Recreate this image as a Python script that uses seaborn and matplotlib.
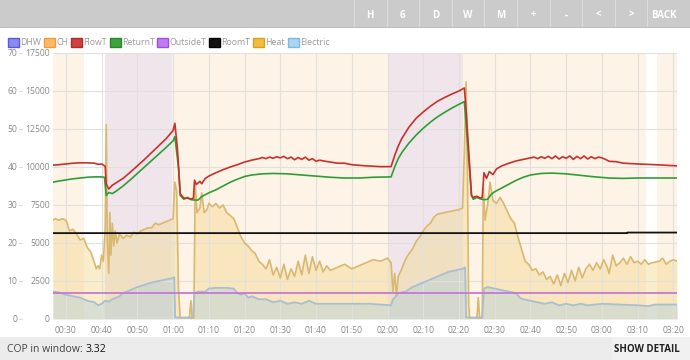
import matplotlib
matplotlib.use("Agg")
import matplotlib.pyplot as plt
from matplotlib.patches import Rectangle
import pandas as pd
import seaborn as sns

# ---- data (minutes after midnight) ----
flow_t = [26.4, 28, 30, 32, 34, 36, 38, 39, 40, 41, 41.3, 42, 43, 44, 46, 48, 50, 52, 54, 56, 58, 60, 60.5,
          61.2, 62, 63, 64, 65, 65.7, 66, 66.5, 67.5, 68, 69, 70, 72, 74, 76, 78, 80, 82, 84, 85, 86, 87, 88,
          89, 90, 91, 92, 93, 94, 95, 96, 97, 98, 99, 100, 101, 102, 104, 106, 108, 110, 114, 118, 121,
          122, 123, 124, 126, 128, 130, 132, 134, 136, 138, 140, 141.5, 142, 143, 143.5, 144, 145, 146,
          146.5, 147, 147.7, 148.5, 149.5, 150.5, 152, 154, 156, 158, 160, 161, 162, 163, 164, 165, 166,
          167, 168, 169, 170, 171, 172, 173, 174, 175, 176, 177, 178, 179, 180, 181, 182, 184, 186, 190,
          195, 201]
flow_v = [40.5, 40.6, 40.8, 41.0, 41.1, 41.1, 41.0, 40.7, 40.8, 40.2, 35.5, 34.2, 35.2, 35.8, 37.0, 38.6,
          40.3, 42.0, 43.8, 45.6, 47.4, 49.6, 51.5,
          45.0, 33.0, 31.8, 31.8, 31.6, 31.8, 36.5, 35.4, 36.2, 35.6, 37.0, 37.6, 38.5, 39.3, 40.0, 40.6,
          41.3, 41.8, 42.2, 42.5, 42.2, 42.6, 42.3,
          42.7, 42.4, 42.8, 42.2, 42.6, 41.9, 42.5, 42.0, 42.6, 41.8, 42.2, 41.5, 41.8, 41.6, 41.3, 41.0,
          41.0, 40.6, 40.3, 40.1, 40.1,
          43.0, 45.5, 47.5, 50.5, 52.8, 54.5, 56.0, 57.3, 58.3, 59.2, 60.0, 60.8, 55.0, 40.0, 32.5, 32.0,
          32.3, 31.8,
          32.0, 38.5, 37.0, 38.8, 38.0, 39.5, 40.3, 41.0, 41.6, 42.0, 42.4, 42.6, 42.2, 42.7, 42.3, 42.8,
          42.2,
          42.9, 42.1, 42.7, 42.3, 42.9, 42.0, 42.8, 42.2, 42.9, 42.1, 42.7, 42.2, 42.6, 42.4, 42.0, 41.5,
          41.4, 41.0, 40.8,
          40.6, 40.3]

ret_t = [26.4, 28, 30, 32, 34, 36, 38, 40, 40.8, 41.3, 42, 43, 44, 46, 48, 50, 52, 54, 56, 58, 60, 60.5,
         61.5, 62, 63, 64, 65, 66, 67, 68, 70, 72, 74, 76, 78, 80, 82, 85, 88, 92, 96, 100, 104, 108, 112,
         116, 121, 122, 123, 124, 126, 128, 130, 132, 134, 136, 138, 140, 141.5, 142.5, 143.5, 144, 145,
         146, 147, 148, 149, 150, 152, 154, 156, 158, 160, 163, 166, 170, 174, 178, 182, 186, 190, 195, 201]
ret_v = [36.0, 36.3, 36.6, 36.9, 37.1, 37.3, 37.4, 37.4, 37.3, 32.5, 33.3, 33.0, 33.6, 35.0, 36.6, 38.3,
         40.0, 41.7, 43.4, 45.1, 46.9, 48.0,
         40.0, 32.5, 31.5, 32.0, 31.4, 31.3, 31.3, 32.2, 33.2, 34.0, 35.0, 36.0, 36.8, 37.5, 37.9, 38.2,
         38.3, 38.2, 37.9, 37.6, 37.3, 37.1, 37.1,
         37.3, 37.4, 40.0, 42.2, 43.8, 46.3, 48.4, 50.2, 51.8, 53.2, 54.4, 55.5, 56.5, 57.2, 45.0, 32.5,
         31.5, 32.0,
         31.6, 31.4, 31.5, 32.8, 33.5, 34.5, 35.5, 36.5, 37.3, 37.9, 38.3, 38.4, 38.2, 37.8, 37.4, 37.1,
         37.0, 37.1, 37.1, 37.1]

heat_t = [26.4, 27, 28, 29, 30, 30.5, 31, 32, 33, 34, 35, 36, 37, 38, 38.5, 39, 39.5, 40, 40.5, 41, 41.3,
          41.6, 42, 42.3, 42.6, 43, 43.4, 43.8, 44.3, 45, 46, 47, 48, 49, 50, 51, 52, 53, 54, 55, 56, 57,
          58, 59, 60, 60.5, 61, 61.5, 62, 64.5, 65, 65.3, 65.8, 66.2, 66.7, 67.5, 68, 68.7, 69.5, 70, 71,
          72, 73, 74, 75, 76, 77, 78, 79, 80, 81, 82, 83, 84, 85, 86, 87, 88, 89, 90, 91, 92, 93, 94, 95,
          96, 97, 98, 99, 100, 101, 102, 103, 104, 106, 108, 110, 112, 114, 116, 118, 120, 121, 121.5,
          122, 122.5, 123, 124, 125, 126, 127, 128, 129, 130, 131, 132, 133, 134, 136, 138, 140, 141,
          141.5, 142, 142.4, 142.7, 143, 145, 145.4, 145.8, 146.5, 146.8, 147.3, 148, 148.7, 149.5, 150.5,
          151.5, 152.5, 153.5, 154.5, 155.5, 156.5, 157.5, 158.5, 159.5, 160.5, 161.5, 162.5, 163.5,
          164.5, 165.5, 166.5, 167.5, 168.5, 169.5, 170.5, 171.5, 172.5, 173.5, 174.5, 175.5, 176.5,
          177.5, 178.5, 179.5, 180.5, 181.5, 182, 183, 184, 185, 186, 187, 188, 189, 190, 191, 192, 193,
          194, 196, 197, 198, 199, 200, 201]
heat_v = [6500, 6600, 6500, 6600, 6500, 6200, 5800, 5900, 5600, 5200, 5300, 4700, 4400, 3700, 3300, 3500,
          3300, 4200, 3800, 6000, 12800,
          5000, 3000, 7000, 4200, 6300, 4800, 5800, 5000, 5600, 5300, 5500, 5400, 5700, 5600, 5800, 5900,
          6000, 6000, 6300, 6200, 6300,
          6400, 6500, 6600, 9000, 8400, 2000, 0, 0, 1200, 0, 0, 8800, 7000, 7300, 8300, 7000, 7200, 7600,
          7400,
          7600, 7300, 7500, 7000, 6800, 6600, 6000, 5400, 5000, 4800, 4500, 4300, 3800, 3600, 3300, 3900,
          2900, 3400, 2700, 3600, 2600, 3300, 2800, 3800,
          2900, 4200, 3000, 4100, 3200, 3800, 3100, 3500, 3200, 3400, 3600, 3300, 3500, 3700, 3900, 3800,
          4000, 3700, 1800,
          3000, 1500, 2800, 3300, 3900, 4300, 4600, 5100, 5400, 5800, 6100, 6300, 6700, 6900, 7000, 7100,
          7200, 7300,
          11000, 15600, 9000, 1000, 0, 0, 1400, 0, 0, 8600, 6500, 7500, 9000, 7800, 7600,
          8000, 7600, 7100, 6600, 6300, 5400, 4600, 3800, 3600, 3200, 3300, 2900, 3100,
          2600, 2800, 2300, 2900, 2200, 3000, 2400, 3200, 2500, 3400, 2700, 3300, 3600,
          3200, 3700, 3300, 3900, 3400, 3000, 4200, 3500, 3700, 4000, 3600, 4100, 3700, 3800, 3600, 3900,
          3600,
          3700, 3800, 4000, 3600, 3800, 3900, 3800]

elec_t = [26.4, 28, 30, 32, 34, 36, 38, 39, 40, 41, 42, 43, 45, 46, 48, 50, 52, 54, 56, 58, 60, 60.3, 60.6,
          65.5, 66, 67, 69, 70, 72, 75, 77, 78, 79, 80, 81, 82, 84, 86, 88, 90, 92, 94, 96, 98, 100, 104,
          110, 115, 121, 121.5, 122, 123, 125, 127, 129, 131, 133, 135, 137, 139, 141, 141.7, 142, 146.5,
          147, 148, 150, 152, 154, 156, 157, 158, 160, 162, 164, 166, 168, 170, 172, 174, 176, 180, 185,
          190, 193, 195, 201]
elec_v = [1800, 1750, 1600, 1500, 1400, 1200, 1100, 900, 1000, 1200, 1150, 1300, 1500, 1700, 1900, 2100,
          2250, 2400, 2500, 2600, 2700, 2750, 100,
          100, 1700, 1800, 1800, 2000, 2050, 2050, 2000, 1700, 1600, 1700, 1400, 1500, 1300, 1300, 1100,
          1200, 1000, 1100, 1000, 1200, 1000, 1000,
          1000, 1000, 900, 1300, 1400, 1700, 1800, 2100, 2300, 2500, 2700, 2900, 3100, 3200, 3300, 3400,
          100, 100,
          2000, 2100, 2000, 1900, 1800, 1700, 1400, 1300, 1200, 1100, 1000, 1100, 900, 1000, 900, 1000,
          900, 1000, 950,
          900, 850, 950, 950]

outside_t = [26.4, 201]
outside_v = [6.8, 6.8]
room_t = [26.4, 187, 187.1, 201]
room_v = [22.6, 22.6, 22.75, 22.75]

# heating mode bands
ch_start = [26.4, 59.7, 141.0, 195.5]
ch_end = [35.0, 120.4, 192.4, 201.0]
dhw_start = [41.0, 120.4]
dhw_end = [59.7, 141.0]

legend_names = ["DHW", "CH", "FlowT", "ReturnT", "OutsideT", "RoomT", "Heat", "Electric"]
legend_fill = ["#8a8af5", "#ffb866", "#d04040", "#3da33d", "#c07cf2", "#111111", "#f2bd3c", "#a9d6f2"]
legend_edge = ["#5a5ad8", "#f09a40", "#b02a2a", "#2a882a", "#a050d8", "#000000", "#d8a020", "#7fb8de"]
buttons = ["H", "6", "D", "W", "M", "+", "-", "<", ">", "BACK"]
cop_value = "3.32"

# ---- figure ----
sns.set_theme(style="white")
plt.rcParams["font.family"] = ["Open Sans", "DejaVu Sans"]

W, H = 690, 360
fig = plt.figure(figsize=(W / 100, H / 100), dpi=100)

def fx(px):
    return px / W

def fy(py):
    return 1 - py / H

# top toolbar
fig.patches.append(Rectangle((0, fy(27)), 1, 27 / H, transform=fig.transFigure,
                             facecolor="#cbcbcb", edgecolor="none", zorder=0))
fig.patches.append(Rectangle((0, fy(28)), 1, 1 / H, transform=fig.transFigure,
                             facecolor="#bdbdbd", edgecolor="none", zorder=0))
sep_x = 354
for i, b in enumerate(buttons):
    x0 = sep_x + i * 32.6
    fig.patches.append(Rectangle((fx(x0), fy(27)), 1 / W, 27 / H, transform=fig.transFigure,
                                 facecolor="#dcdcdc", edgecolor="none", zorder=1))
    fig.text(fx(x0 + 16.3), fy(15), b, color="white", fontsize=7, fontweight="bold",
             ha="center", va="center")

# bottom COP band
fig.patches.append(Rectangle((0, 0), 1, 23 / H, transform=fig.transFigure,
                             facecolor="#ececec", edgecolor="none", zorder=0))
fig.patches.append(Rectangle((fx(612), 0), 78 / W, 23 / H, transform=fig.transFigure,
                             facecolor="#f1f1f1", edgecolor="none", zorder=0))
t1 = fig.text(fx(7), fy(349), "COP in window: ", color="#444444", fontsize=7.5, va="center")
fig.canvas.draw()
bb = t1.get_window_extent()
fig.text(bb.x1 / W, fy(349), cop_value, color="#111111", fontsize=7.5, va="center")
fig.text(fx(680), fy(349), "SHOW DETAIL", color="#222222", fontsize=7, fontweight="bold",
         ha="right", va="center")

# legend row
lx = 8
for name, fc, ec in zip(legend_names, legend_fill, legend_edge):
    fig.patches.append(Rectangle((fx(lx), fy(47)), 11 / W, 9 / H, transform=fig.transFigure,
                                 facecolor=fc, edgecolor=ec, linewidth=1.0, zorder=2))
    t = fig.text(fx(lx + 12.5), fy(42.5), name, color="#9a9a9a", fontsize=6.3, va="center")
    fig.canvas.draw()
    lx = t.get_window_extent().x1 + 2.5

# plot area
ax = fig.add_axes([fx(53), fy(319), (677 - 53) / W, (319 - 53) / H])
ax_t = ax.twinx()

for s, e in zip(ch_start, ch_end):
    ax.axvspan(s, e, color="#fdf3e6", lw=0, zorder=0.1)
for s, e in zip(dhw_start, dhw_end):
    ax.axvspan(s, e, color="#efe5ea", lw=0, zorder=0.1)

heat_df = pd.DataFrame({"t": heat_t, "w": heat_v})
elec_df = pd.DataFrame({"t": elec_t, "w": elec_v})
ax.fill_between(heat_df["t"], 0, heat_df["w"], color="#f5d88f", alpha=0.45, lw=0, zorder=1)
sns.lineplot(data=heat_df, x="t", y="w", ax=ax, color="#d9b870", linewidth=1.2, zorder=2)
ax.fill_between(elec_df["t"], 0, elec_df["w"], color="#aacbe0", alpha=0.40, lw=0, zorder=1)
sns.lineplot(data=elec_df, x="t", y="w", ax=ax, color="#a9bfcf", linewidth=1.3, zorder=2)

sns.lineplot(x=outside_t, y=outside_v, ax=ax_t, color="#c17ad6", linewidth=1.3)
sns.lineplot(x=room_t, y=room_v, ax=ax_t, color="#111111", linewidth=1.3)
sns.lineplot(x=ret_t, y=ret_v, ax=ax_t, color="#2f9e36", linewidth=1.2)
sns.lineplot(x=flow_t, y=flow_v, ax=ax_t, color="#c9302c", linewidth=1.2)

ax.set_xlim(26.4, 201)
ax.set_ylim(0, 17500)
ax_t.set_ylim(0, 70)

xt = list(range(30, 201, 10))
ax.set_xticks(xt)
ax.set_xticklabels([f"{m // 60:02d}:{m % 60:02d}" for m in xt])
ax.set_yticks(range(0, 17501, 2500))
ax_t.set_yticks(range(0, 71, 10))

ax.set_axisbelow("line")
ax.grid(True, color="#e2e0dc", linewidth=0.8)
ax.set_xlabel("")
ax.set_ylabel("")
ax_t.set_xlabel("")
ax_t.set_ylabel("")

for a in (ax, ax_t):
    for sp in a.spines.values():
        sp.set_visible(False)

ax.tick_params(axis="x", length=0, pad=5, labelsize=6.2, labelcolor="#8a8a8a")
ax.tick_params(axis="y", length=0, pad=2.2, labelsize=6.2, labelcolor="#8a8a8a")
ax_t.yaxis.tick_left()
ax_t.spines["left"].set_position(("outward", 22))
ax_t.tick_params(axis="y", length=2, width=0.6, color="#cccccc", pad=1.8, labelsize=6.2,
                 labelcolor="#8a8a8a")

fig.savefig("out.png", dpi=100)
